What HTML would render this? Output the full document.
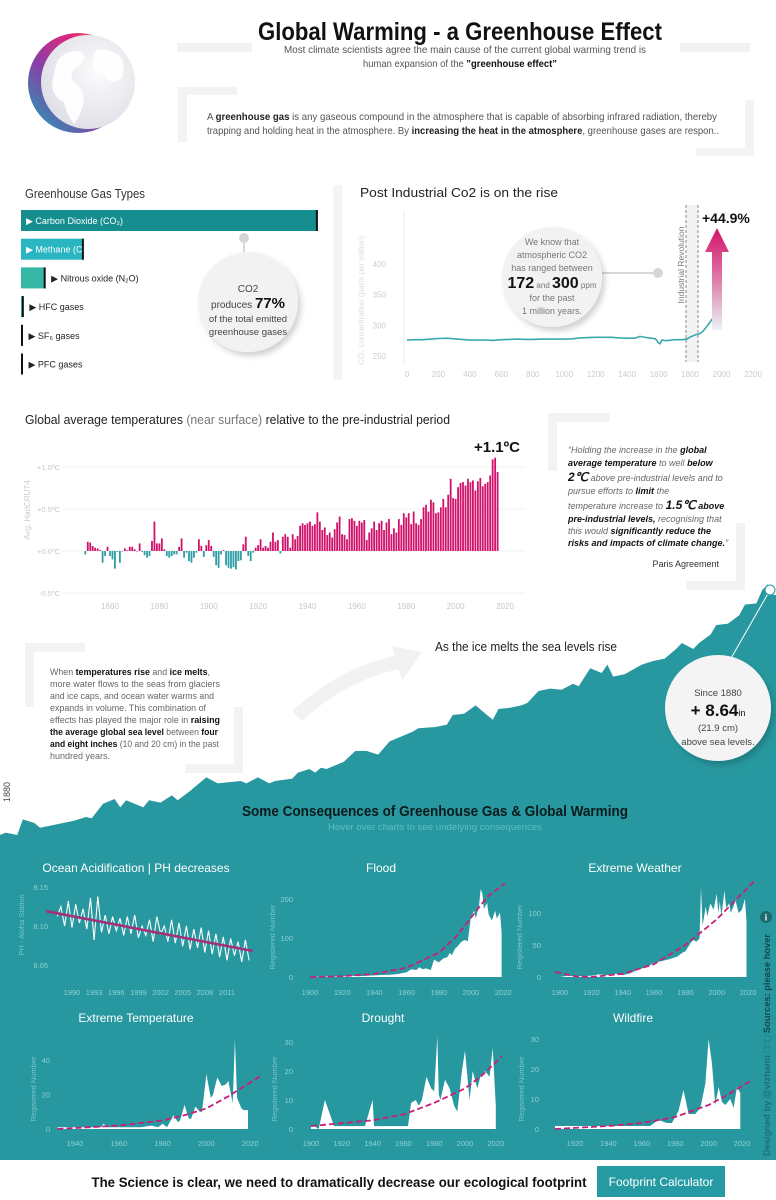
<!DOCTYPE html>
<html><head><meta charset="utf-8"><style>
html,body{margin:0;padding:0;background:#fff;}
svg{display:block;font-family:"Liberation Sans",sans-serif;}
</style></head><body>
<svg id="root" width="776" height="1200" viewBox="0 0 776 1200" xmlns="http://www.w3.org/2000/svg">
<defs>
<linearGradient id="globeGrad" x1="0" y1="1" x2="1" y2="0">
<stop offset="0" stop-color="#13a9b8"/><stop offset="0.4" stop-color="#8a3fa6"/><stop offset="0.7" stop-color="#e0267a"/><stop offset="1" stop-color="#f7941d"/></linearGradient>
<radialGradient id="globeGray" cx="0.6" cy="0.4" r="0.7"><stop offset="0" stop-color="#fbfbfd"/><stop offset="1" stop-color="#dcdce4"/></radialGradient>
<linearGradient id="arrowGrad" x1="0" y1="0" x2="0" y2="1"><stop offset="0" stop-color="#d1126b"/><stop offset="0.5" stop-color="#e07aa8"/><stop offset="1" stop-color="#e8f4f4"/></linearGradient>
<filter id="shadow" x="-20%" y="-20%" width="150%" height="150%"><feDropShadow dx="3" dy="4" stdDeviation="3" flood-color="#000" flood-opacity="0.18"/></filter>
<clipPath id="methaneClip"><rect x="21" y="238" width="62" height="25"/></clipPath>
</defs>

<!-- Header -->
<g>
<circle cx="78" cy="83" r="50" fill="url(#globeGrad)"/>
<circle cx="88" cy="82" r="47" fill="url(#globeGray)"/>
<path d="M58 60 q10-12 24-8 q6 8-4 14 q-8 4-6 14 q10 6 12 20 q-2 14-10 24 q-8-10-10-22 q-10-4-12-16 q2-16 6-26z" fill="#fff" opacity="0.9"/>
<path d="M96 50 q14-2 24 6 q6 10 2 22 q-8 6-14 2 q-6-10-14-10 q-4-10 2-20z" fill="#fff" opacity="0.9"/>
</g>
<rect x="177" y="43" width="75" height="9" fill="#f2f2f2"/>
<rect x="680" y="43" width="70" height="9" fill="#f2f2f2"/>
<text x="460" y="40" text-anchor="middle" font-size="25" font-weight="bold" fill="#111" textLength="404" lengthAdjust="spacingAndGlyphs">Global Warming - a Greenhouse Effect</text>
<text x="465" y="53" text-anchor="middle" font-size="10.5" fill="#555" textLength="362" lengthAdjust="spacingAndGlyphs">Most climate scientists agree the main cause of the current global warming trend is</text>
<text x="460" y="67" text-anchor="middle" font-size="10.5" fill="#555" textLength="194" lengthAdjust="spacingAndGlyphs">human expansion of the <tspan font-weight="bold" fill="#111">”greenhouse effect”</tspan></text>
<g fill="#f3f3f3">
<rect x="178" y="87" width="59" height="8"/><rect x="178" y="87" width="9" height="55"/>
<rect x="745" y="100" width="9" height="56"/><rect x="696" y="148" width="58" height="8"/>
</g>
<text x="207" y="120" font-size="10.5" fill="#555" textLength="510" lengthAdjust="spacingAndGlyphs">A <tspan font-weight="bold" fill="#222">greenhouse gas</tspan> is any gaseous compound in the atmosphere that is capable of absorbing infrared radiation, thereby</text>
<text x="207" y="134" font-size="10.5" fill="#555" textLength="512" lengthAdjust="spacingAndGlyphs">trapping and holding heat in the atmosphere. By <tspan font-weight="bold" fill="#222">increasing the heat in the atmosphere</tspan>, greenhouse gases are respon..</text>

<!-- Gas types -->
<text x="25" y="198" font-size="12.5" fill="#333" textLength="120" lengthAdjust="spacingAndGlyphs">Greenhouse Gas Types</text>
<rect x="333" y="185" width="9" height="195" fill="#f4f4f4"/>
<g id="gasChart"></g>
<line x1="244" y1="238" x2="244" y2="252" stroke="#ccc" stroke-width="1.5"/>
<circle cx="244" cy="238" r="5" fill="#d6d6d6"/>
<g>
<circle cx="248" cy="302" r="50" fill="#f2f2f2" filter="url(#shadow)"/>
<text x="248" y="292" text-anchor="middle" font-size="10" fill="#444">CO2</text>
<text x="248" y="308" text-anchor="middle" font-size="10" fill="#444">produces <tspan font-size="15" font-weight="bold" fill="#111">77%</tspan></text>
<text x="248" y="322" text-anchor="middle" font-size="9.5" fill="#444">of the total emitted</text>
<text x="248" y="335" text-anchor="middle" font-size="9.5" fill="#444">greenhouse gases</text>
</g>

<!-- CO2 chart -->
<text x="360" y="197" font-size="12.5" fill="#222" textLength="198" lengthAdjust="spacingAndGlyphs">Post Industrial Co2 is on the rise</text>
<text transform="translate(364,300) rotate(-90)" text-anchor="middle" font-size="8" fill="#ddd">CO₂ concentration (parts per million)</text>
<rect x="686" y="205" width="12" height="157" fill="#f3f3f3"/>
<line x1="686" y1="205" x2="686" y2="362" stroke="#888" stroke-dasharray="3,2"/>
<line x1="698" y1="205" x2="698" y2="362" stroke="#888" stroke-dasharray="3,2"/>
<text transform="translate(684,265) rotate(-90)" text-anchor="middle" font-size="8.5" fill="#777">Industrial Revolution</text>
<g id="co2Chart"></g>
<path d="M712 330 L712 252 L705 252 L717 228 L729 252 L722 252 L722 330 Z" fill="url(#arrowGrad)"/>
<text x="702" y="223" font-size="14" font-weight="bold" fill="#111">+44.9%</text>
<line x1="602" y1="273" x2="658" y2="273" stroke="#ccc" stroke-width="1.5"/>
<circle cx="658" cy="273" r="5" fill="#d6d6d6"/>
<g>
<circle cx="552" cy="277" r="50" fill="#f2f2f2" filter="url(#shadow)"/>
<text x="552" y="245" text-anchor="middle" font-size="9" fill="#777">We know that</text>
<text x="552" y="258" text-anchor="middle" font-size="9" fill="#777">atmospheric CO2</text>
<text x="552" y="271" text-anchor="middle" font-size="9" fill="#777">has ranged between</text>
<text x="552" y="288" text-anchor="middle" font-size="8" fill="#777"><tspan font-size="16" font-weight="bold" fill="#111">172</tspan> and <tspan font-size="16" font-weight="bold" fill="#111">300</tspan> ppm</text>
<text x="552" y="301" text-anchor="middle" font-size="9" fill="#777">for the past</text>
<text x="552" y="314" text-anchor="middle" font-size="9" fill="#777">1 million years.</text>
</g>

<!-- Temperature chart -->
<text x="25" y="424" font-size="12.5" fill="#222" textLength="425" lengthAdjust="spacingAndGlyphs">Global average temperatures <tspan fill="#777">(near surface)</tspan> relative to the pre-industrial period</text>
<text transform="translate(30,510) rotate(-90)" text-anchor="middle" font-size="8" fill="#ccc">Avg. HadCRUT4</text>
<g id="tempChart"></g>
<text x="474" y="452" font-size="15" font-weight="bold" fill="#111">+1.1ºC</text>
<g fill="#f3f3f3">
<rect x="548" y="413" width="62" height="9"/><rect x="548" y="413" width="9" height="58"/>
<rect x="736" y="523" width="9" height="67"/><rect x="686" y="581" width="59" height="9"/>
</g>
<g font-size="9" font-style="italic" fill="#666">
<text x="568" y="453">“Holding the increase in the <tspan font-weight="bold" fill="#111">global</tspan></text>
<text x="568" y="466"><tspan font-weight="bold" fill="#111">average temperature</tspan> to well <tspan font-weight="bold" fill="#111">below</tspan></text>
<text x="568" y="481"><tspan font-weight="bold" fill="#111" font-size="12">2℃</tspan> above pre-industrial levels and to</text>
<text x="568" y="494">pursue efforts to <tspan font-weight="bold" fill="#111">limit</tspan> the</text>
<text x="568" y="509">temperature increase to <tspan font-weight="bold" fill="#111" font-size="12">1.5℃</tspan><tspan font-weight="bold" fill="#111"> above</tspan></text>
<text x="568" y="522"><tspan font-weight="bold" fill="#111">pre-industrial levels,</tspan> recognising that</text>
<text x="568" y="534">this would <tspan font-weight="bold" fill="#111">significantly reduce the</tspan></text>
<text x="568" y="546"><tspan font-weight="bold" fill="#111">risks and impacts of climate change.</tspan>”</text>
</g>
<text x="719" y="567" text-anchor="end" font-size="9" fill="#333">Paris Agreement</text>

<!-- Sea level -->
<g id="seaChart"></g>
<g fill="#f3f3f3">
<rect x="25" y="643" width="60" height="9"/><rect x="25" y="643" width="9" height="64"/>
<rect x="234" y="707" width="9" height="66"/><rect x="185" y="764" width="58" height="9"/>
</g>
<g font-size="9.5" fill="#666">
<text x="50" y="675" textLength="160" lengthAdjust="spacingAndGlyphs">When <tspan font-weight="bold" fill="#111">temperatures rise</tspan> and <tspan font-weight="bold" fill="#111">ice melts</tspan>,</text>
<text x="50" y="687" textLength="170" lengthAdjust="spacingAndGlyphs">more water flows to the seas from glaciers</text>
<text x="50" y="699" textLength="164" lengthAdjust="spacingAndGlyphs">and ice caps, and ocean water warms and</text>
<text x="50" y="711" textLength="156" lengthAdjust="spacingAndGlyphs">expands in volume. This combination of</text>
<text x="50" y="723" textLength="170" lengthAdjust="spacingAndGlyphs">effects has played the major role in <tspan font-weight="bold" fill="#111">raising</tspan></text>
<text x="50" y="735" textLength="168" lengthAdjust="spacingAndGlyphs"><tspan font-weight="bold" fill="#111">the average global sea level</tspan> between <tspan font-weight="bold" fill="#111">four</tspan></text>
<text x="50" y="747" textLength="169" lengthAdjust="spacingAndGlyphs"><tspan font-weight="bold" fill="#111">and eight inches</tspan> (10 and 20 cm) in the past</text>
<text x="50" y="759" textLength="60" lengthAdjust="spacingAndGlyphs">hundred years.</text>
</g>
<g>
<path d="M297 716 Q345 672 400 662" fill="none" stroke="#f2f2f2" stroke-width="14"/>
<polygon points="392,646 422,652 402,681" fill="#f2f2f2"/>
</g>
<text x="435" y="651" font-size="13" fill="#222" textLength="182" lengthAdjust="spacingAndGlyphs">As the ice melts the sea levels rise</text>
<text transform="translate(10,792) rotate(-90)" text-anchor="middle" font-size="9" fill="#444">1880</text>
<line x1="770" y1="590" x2="730" y2="660" stroke="#fff" stroke-width="1"/>
<circle cx="770" cy="590" r="5" fill="#fff" stroke="#27989f" stroke-width="1"/>
<g>
<circle cx="718" cy="708" r="53" fill="#f4f4f4" filter="url(#shadow)"/>
<text x="718" y="696" text-anchor="middle" font-size="9.5" fill="#444">Since 1880</text>
<text x="718" y="716" text-anchor="middle" font-size="17" font-weight="bold" fill="#111">+ 8.64<tspan font-size="9" font-weight="normal">in</tspan></text>
<text x="718" y="731" text-anchor="middle" font-size="9.5" fill="#444">(21.9 cm)</text>
<text x="718" y="745" text-anchor="middle" font-size="9.5" fill="#444">above sea levels.</text>
</g>
<text x="435" y="816" text-anchor="middle" font-size="15" font-weight="bold" fill="#0b1a1c" textLength="386" lengthAdjust="spacingAndGlyphs">Some Consequences of Greenhouse Gas &amp; Global Warming</text>
<text x="435" y="830" text-anchor="middle" font-size="9" fill="#5fbec4" textLength="214" lengthAdjust="spacingAndGlyphs">Hover over charts to see undelying consequences</text>

<!-- Small multiples -->
<g id="smalls"></g>
<text transform="translate(770,1045) rotate(-90)" text-anchor="middle" font-size="9" font-weight="bold" fill="#1f6e76" textLength="222" lengthAdjust="spacingAndGlyphs">Designed by @vizhami □□□ <tspan fill="#12474d">Sources: please hover</tspan></text>
<g>
<circle cx="766" cy="917" r="6" fill="#1d6a71"/>
<text x="766" y="920.5" text-anchor="middle" font-size="9" font-weight="bold" fill="#fff">i</text>
</g>

<!-- Footer -->
<text x="339" y="1187" text-anchor="middle" font-size="14" font-weight="bold" fill="#111" textLength="495" lengthAdjust="spacingAndGlyphs">The Science is clear, we need to dramatically decrease our ecological footprint</text>
<g>
<rect x="597" y="1166" width="128" height="31" fill="#259aa2"/>
<text x="661" y="1186" text-anchor="middle" font-size="12" fill="#fff">Footprint Calculator</text>
</g>
</svg>
<script>
// ===== Data =====
const gasNames = ['Carbon Dioxide (CO₂)','Methane (CH₄)','Nitrous oxide (N₂O)','HFC gases','SF₆ gases','PFC gases'];
const gasShares = [76, 16, 6.2, 0.6, 0.3, 0.25];
const gasColors = ['#168e8f','#2ab5c2','#35b8a5','#2ab5c2','#168e8f','#168e8f'];

const co2Years = [0,50,100,150,200,250,300,350,400,450,500,550,600,650,700,750,800,850,900,950,1000,1050,1100,1150,1200,1250,1300,1350,1400,1450,1480,1500,1550,1580,1600,1610,1620,1650,1700,1750,1780,1800,1820,1840,1860,1880,1900,1920,1940,1950,1960,1975];
const co2Values = [276,276.5,276.5,277.5,278.5,279,278,277,276,276,276,275.5,276.5,277,277.5,277,277,277.5,277.5,277.5,277.5,278,279.5,280,280.5,280.5,280.5,279.5,279,279,282,281,279,278,271,270,276,275,276.5,276.5,277.5,281,283,285,286,290,296,303,310,311,317,326];
const co2YTicks = [250,300,350,400];
const co2XTicks = [0,200,400,600,800,1000,1200,1400,1600,1800,2000,2200];

const tempStartYear = 1850;
const tempValues = [
-0.04,0.11,0.10,0.06,0.04,0.03,0.01,-0.14,-0.06,0.05,
-0.06,-0.10,-0.21,-0.01,-0.14,0.00,0.03,0.01,0.05,0.05,
0.02,0.00,0.09,-0.01,-0.05,-0.08,-0.06,0.12,0.35,0.09,
0.09,0.15,0.02,-0.06,-0.08,-0.06,-0.04,-0.04,0.05,0.15,
-0.08,-0.02,-0.12,-0.14,-0.08,-0.02,0.14,0.06,-0.07,0.07,
0.13,0.06,-0.07,-0.17,-0.20,-0.04,0.01,-0.17,-0.20,-0.21,
-0.19,-0.22,-0.12,-0.11,0.08,0.17,-0.06,-0.12,-0.02,0.04,
0.07,0.14,0.04,0.06,0.04,0.11,0.22,0.11,0.13,-0.03,
0.17,0.20,0.17,0.04,0.20,0.14,0.18,0.30,0.33,0.31,
0.33,0.35,0.30,0.32,0.46,0.35,0.25,0.28,0.19,0.22,
0.16,0.26,0.34,0.41,0.20,0.19,0.14,0.38,0.39,0.36,
0.30,0.36,0.34,0.37,0.13,0.22,0.27,0.35,0.25,0.33,
0.36,0.25,0.34,0.38,0.20,0.27,0.22,0.38,0.31,0.45,
0.40,0.45,0.32,0.47,0.33,0.31,0.38,0.52,0.55,0.47,
0.61,0.58,0.45,0.46,0.52,0.62,0.52,0.67,0.86,0.63,
0.62,0.76,0.81,0.82,0.78,0.86,0.82,0.84,0.72,0.83,
0.87,0.77,0.80,0.82,0.90,1.09,1.11,0.94];
const tempYTicks = [-0.5,0,0.5,1.0];
const tempYLabels = ['-0.5ºC','+0.0ºC','+0.5ºC','+1.0ºC'];
const tempXTicks = [1860,1880,1900,1920,1940,1960,1980,2000,2020];

const seaYears = [1880,1881,1883,1884,1886,1887,1889,1891,1893,1895,1896,1898,1900,1901,1902,1905,1906,1908,1910,1911,1913,1916,1918,1922,1923,1925,1927,1928,1931,1932,1934,1935,1936,1937,1940,1942,1944,1946,1948,1950,1952,1953,1956,1958,1959,1961,1963,1964,1966,1967,1969,1971,1972,1974,1976,1978,1980,1981,1983,1985,1986,1987,1989,1992,1994,1996,1998,1999,2001,2002,2004,2005,2007,2009,2010,2012,2013,2014,2015];
const seaInches = [0,0.1,0,0.65,0.5,0.3,0.4,0.5,0.6,0.75,0.7,1.3,1.5,1.15,1.45,1.15,1.45,1.35,1.65,1.45,1.8,2.4,2.15,2.25,2.15,2.4,2.15,2.25,2.35,2.6,2.75,2.6,2.8,2.75,3.05,3.5,3.5,3.35,3.9,4.1,4.3,4.45,4.5,4.6,5.0,5.05,5.4,5.2,4.8,5.25,5.3,5.4,5.5,6.0,6.1,6.05,6.3,6.2,6.95,6.75,7.1,6.6,6.7,7.1,7.25,7.35,7.75,8.0,7.75,8.0,8.35,8.75,8.8,9.15,9.6,9.65,10.2,10.45,10.0];

const phStartYear = 1988;
const phValues = [8.112,8.125,8.100,8.132,8.098,8.128,8.104,8.122,8.096,8.136,8.082,8.138,8.092,8.114,8.090,8.112,8.094,8.110,8.088,8.112,8.090,8.114,8.085,8.100,8.088,8.108,8.080,8.112,8.090,8.100,8.080,8.108,8.078,8.104,8.074,8.100,8.070,8.096,8.072,8.098,8.066,8.094,8.064,8.090,8.060,8.086,8.056,8.084,8.062,8.080,8.054,8.082,8.056];
const phTrendYears = [1986.5,2014.5];
const phTrendValues = [8.119,8.068];
const phYTicks = [8.05,8.10,8.15];
const phXTicks = [1990,1993,1996,1999,2002,2005,2008,2011];

const floodYears = [1900,1910,1920,1926,1930,1940,1945,1950,1955,1960,1963,1966,1968,1970,1972,1975,1977,1978,1980,1983,1985,1987,1988,1990,1992,1994,1996,1998,2000,2002,2003,2005,2006,2007,2008,2010,2011,2013,2015,2016,2018,2019];
const floodValues = [0,1,1,3,2,4,5,6,8,12,20,18,25,20,22,18,45,42,38,48,50,62,55,72,80,90,95,92,155,170,150,185,225,215,175,190,160,145,170,150,165,115];
const floodTrendYears = [1900,1920,1940,1960,1980,1990,2000,2010,2021];
const floodTrendValues = [0,2,8,24,62,100,152,205,240];

const weatherYears = [1900,1905,1910,1920,1925,1930,1935,1940,1945,1950,1955,1960,1965,1970,1975,1978,1980,1983,1985,1987,1989,1990,1991,1993,1994,1996,1998,2000,2001,2002,2003,2005,2006,2008,2009,2011,2012,2014,2016,2018,2019];
const weatherValues = [0,2,1,2,4,3,5,3,6,12,15,22,25,28,32,38,40,52,58,55,60,140,80,110,95,115,105,130,100,118,95,135,108,115,100,112,120,100,105,122,87];
const weatherTrendYears = [1897,1910,1920,1940,1960,1980,2000,2010,2024];
const weatherTrendValues = [8,1,0,5,20,50,90,115,150];

const heatYears = [1932,1935,1945,1952,1953,1955,1960,1970,1975,1978,1980,1982,1985,1987,1988,1990,1992,1993,1995,1997,1998,2000,2002,2003,2005,2007,2009,2010,2012,2013,2014,2016,2017,2019];
const heatValues = [1,1,1,1,3,1,1,1,2,1,3,1,8,4,5,14,6,6,13,10,10,32,18,20,30,25,26,28,15,52,18,12,11,11];
const heatTrendYears = [1932,1960,1980,1990,2000,2010,2025];
const heatTrendValues = [0,2,5,8,12,19,31];

const droughtYears = [1900,1902,1905,1909,1915,1935,1940,1941,1963,1965,1968,1970,1972,1975,1978,1980,1982,1983,1984,1987,1990,1993,1995,1998,2000,2003,2005,2008,2010,2013,2016,2018,2020];
const droughtValues = [1,1,0,10,1,1,10,1,1,9,10,8,10,18,14,13,32,12,10,17,14,8,6,20,27,10,20,14,18,20,18,28,8];
const droughtTrendYears = [1900,1920,1940,1960,1980,2000,2010,2024];
const droughtTrendValues = [1,2,3,5,9,14,18,25];

const fireYears = [1908,1920,1945,1965,1970,1975,1978,1982,1985,1988,1992,1995,1998,2000,2002,2004,2006,2008,2010,2013,2015,2017,2019];
const fireValues = [1,1,1,1,3,2,2,6,13,5,5,7,15,30,22,8,14,9,8,10,7,14,12];
const fireTrendYears = [1908,1940,1960,1980,2000,2010,2025];
const fireTrendValues = [0,1,2,4,8,11,16];

// ===== Helpers =====
const NS = 'http://www.w3.org/2000/svg';
function mk(parent, tag, attrs) {
  const e = document.createElementNS(NS, tag);
  for (const k in attrs) e.setAttribute(k, attrs[k]);
  parent.appendChild(e);
  return e;
}
function txt(parent, x, y, s, attrs) {
  const e = mk(parent, 'text', Object.assign({x: x, y: y}, attrs));
  e.textContent = s;
  return e;
}

// ===== Gas bars =====
(function () {
  const g = document.getElementById('gasChart');
  const x0 = 21, k = 3.9;
  gasShares.forEach((v, i) => {
    const y = 210 + i * 28.7, w = Math.max(1.5, v * k);
    const bar = mk(g, 'rect', {x: x0, y: y, width: w, height: 21, fill: gasColors[i]});
    
    
    const end = mk(g, 'rect', {x: x0 + w - 1.5, y: y, width: 2, height: 21, fill: '#111'});
    
    
    let lab;
    if (w > 50) {
      lab = txt(g, x0 + 5, y + 14, '▶ ' + gasNames[i], {'font-size': 9, fill: '#fff'});
      if (w < 150) lab.setAttribute('clip-path', 'url(#methaneClip)');
    } else {
      lab = txt(g, x0 + w + 6, y + 14, '▶ ' + gasNames[i], {'font-size': 9, fill: '#222'});
    }
    
    
  });
})();

// ===== CO2 line =====
(function () {
  const g = document.getElementById('co2Chart');
  const X = yr => 407 + yr * (346 / 2200);
  const Y = v => 356 - (v - 250) * (92 / 150);
  const ax = mk(g, 'line', {x1: 404, y1: 210, x2: 404, y2: 365, stroke: '#eee'});
  
  
  co2YTicks.forEach(t => {
    const l = txt(g, 386, Y(t) + 3, String(t), {'font-size': 8, fill: '#ccc', 'text-anchor': 'end'});
    
    
  });
  co2XTicks.forEach(t => {
    const l = txt(g, X(t), 377, String(t), {'font-size': 8, fill: '#ccc', 'text-anchor': 'middle'});
    
    
  });
  const d = co2Years.map((yr, i) => (i ? 'L' : 'M') + X(yr).toFixed(1) + ' ' + Y(co2Values[i]).toFixed(1)).join(' ');
  const p = mk(g, 'path', {d: d, fill: 'none', stroke: '#3aa9ae', 'stroke-width': 1.6});
  
  
})();

// ===== Temperature bars =====
(function () {
  const g = document.getElementById('tempChart');
  const X = yr => 110 + (yr - 1860) * (395 / 160);
  const Y = v => 551 - v * 84;
  tempYTicks.forEach((t, i) => {
    const gl = mk(g, 'line', {x1: 62, y1: Y(t), x2: 525, y2: Y(t), stroke: '#f1f1f1'});
    
    
    const l = txt(g, 60, Y(t) + 3, tempYLabels[i], {'font-size': 7.5, fill: '#c8c8c8', 'text-anchor': 'end'});
    
    
  });
  tempXTicks.forEach(t => {
    const l = txt(g, X(t), 609, String(t), {'font-size': 8, fill: '#c8c8c8', 'text-anchor': 'middle'});
    
    
  });
  tempValues.forEach((v, i) => {
    const yr = tempStartYear + i;
    const y0 = Y(0), y1 = Y(v);
    const r = mk(g, 'rect', {x: X(yr) - 0.9, y: Math.min(y0, y1), width: 1.8, height: Math.max(0.5, Math.abs(y1 - y0)), fill: v >= 0 ? '#d1126b' : '#2e9ea6'});
    
    
  });
})();

// ===== Sea level area =====
(function () {
  const g = document.getElementById('seaChart');
  const X = yr => (yr - 1880) * 5.73;
  const Y = v => 835 - v * 24;
  let d = 'M0 1160 ';
  seaYears.forEach((yr, i) => { d += 'L' + X(yr).toFixed(1) + ' ' + Y(seaInches[i]).toFixed(1) + ' '; });
  d += 'L776 ' + Y(seaInches[seaInches.length - 1]).toFixed(1) + ' L776 1160 Z';
  const p = mk(g, 'path', {d: d, fill: '#27989f'});
  
  
})();

// ===== Small multiples =====
function smallChart(cfg) {
  const root = document.getElementById('smalls');
  const g = mk(root, 'g', {});
  
  
  const X = yr => cfg.x0 + (yr - cfg.xYear0) * cfg.xk;
  const Y = v => cfg.yBase - (v - cfg.yMin) * cfg.yk;
  const t = txt(g, cfg.titleX, cfg.titleY, cfg.title, {'font-size': 12, fill: '#fff', 'text-anchor': 'middle'});
  
  
  const at = mk(g, 'text', {transform: 'translate(' + cfg.axisTitleX + ',' + (cfg.yBase - 40) + ') rotate(-90)', 'font-size': 7.5, fill: '#78c6cb', 'text-anchor': 'middle'});
  at.textContent = cfg.axisTitle;
  
  
  cfg.yTicks.forEach(v => {
    const l = txt(g, cfg.yTickX, Y(v) + 3, cfg.yFmt ? cfg.yFmt(v) : String(v), {'font-size': 7.5, fill: '#8fd0d4', 'text-anchor': 'end'});
    
    
  });
  cfg.xTicks.forEach(v => {
    const l = txt(g, X(v), cfg.xLabelY, String(v), {'font-size': 7.5, fill: '#8fd0d4', 'text-anchor': 'middle'});
    
    
  });
  if (cfg.area) {
    let d = 'M' + X(cfg.years[0]).toFixed(1) + ' ' + Y(cfg.yMin).toFixed(1) + ' ';
    cfg.years.forEach((yr, i) => { d += 'L' + X(yr).toFixed(1) + ' ' + Y(cfg.values[i]).toFixed(1) + ' '; });
    d += 'L' + X(cfg.years[cfg.years.length - 1]).toFixed(1) + ' ' + Y(cfg.yMin).toFixed(1) + ' Z';
    const a = mk(g, 'path', {d: d, fill: '#fff'});
    
    
  } else {
    const d = cfg.years.map((yr, i) => (i ? 'L' : 'M') + X(yr).toFixed(1) + ' ' + Y(cfg.values[i]).toFixed(1)).join(' ');
    const l = mk(g, 'path', {d: d, fill: 'none', stroke: '#fff', 'stroke-width': 1.1});
    
    
  }
  const td = cfg.trendYears.map((yr, i) => (i ? 'L' : 'M') + X(yr).toFixed(1) + ' ' + Y(cfg.trendValues[i]).toFixed(1)).join(' ');
  const tr = mk(g, 'path', {d: td, fill: 'none', stroke: cfg.area ? '#c81f78' : '#a3307a', 'stroke-width': cfg.area ? 1.8 : 2.6, 'stroke-dasharray': cfg.area ? '6,3' : 'none'});
  
  
}

smallChart({name: 'ocean-acidification-chart', title: 'Ocean Acidification | PH decreases', titleX: 136, titleY: 872,
  axisTitle: 'PH - Aloha Station', axisTitleX: 24, yTickX: 48, yTicks: phYTicks, yFmt: v => v.toFixed(2),
  x0: 72, xYear0: 1990, xk: 7.38, yBase: 965, yMin: 8.05, yk: 780, xTicks: phXTicks, xLabelY: 995,
  years: phValues.map((v, i) => phStartYear + i / 2), values: phValues, trendYears: phTrendYears, trendValues: phTrendValues, area: false});
smallChart({name: 'flood-chart', title: 'Flood', titleX: 381, titleY: 872, axisTitle: 'Registered Number', axisTitleX: 275,
  yTickX: 293, yTicks: [0, 100, 200], x0: 310, xYear0: 1900, xk: 1.61, yBase: 977, yMin: 0, yk: 0.39,
  xTicks: [1900, 1920, 1940, 1960, 1980, 2000, 2020], xLabelY: 995, years: floodYears, values: floodValues,
  trendYears: floodTrendYears, trendValues: floodTrendValues, area: true});
smallChart({name: 'extreme-weather-chart', title: 'Extreme Weather', titleX: 635, titleY: 872, axisTitle: 'Registered Number', axisTitleX: 522,
  yTickX: 541, yTicks: [0, 50, 100], x0: 560, xYear0: 1900, xk: 1.567, yBase: 977, yMin: 0, yk: 0.64,
  xTicks: [1900, 1920, 1940, 1960, 1980, 2000, 2020], xLabelY: 995, years: weatherYears, values: weatherValues,
  trendYears: weatherTrendYears, trendValues: weatherTrendValues, area: true});
smallChart({name: 'extreme-temperature-chart', title: 'Extreme Temperature', titleX: 136, titleY: 1022, axisTitle: 'Registered Number', axisTitleX: 36,
  yTickX: 50, yTicks: [0, 20, 40], x0: 75, xYear0: 1940, xk: 2.19, yBase: 1129, yMin: 0, yk: 1.72,
  xTicks: [1940, 1960, 1980, 2000, 2020], xLabelY: 1146, years: heatYears, values: heatValues,
  trendYears: heatTrendYears, trendValues: heatTrendValues, area: true});
smallChart({name: 'drought-chart', title: 'Drought', titleX: 383, titleY: 1022, axisTitle: 'Registered Number', axisTitleX: 277,
  yTickX: 293, yTicks: [0, 10, 20, 30], x0: 311, xYear0: 1900, xk: 1.54, yBase: 1129, yMin: 0, yk: 2.9,
  xTicks: [1900, 1920, 1940, 1960, 1980, 2000, 2020], xLabelY: 1146, years: droughtYears, values: droughtValues,
  trendYears: droughtTrendYears, trendValues: droughtTrendValues, area: true});
smallChart({name: 'wildfire-chart', title: 'Wildfire', titleX: 633, titleY: 1022, axisTitle: 'Registered Number', axisTitleX: 524,
  yTickX: 539, yTicks: [0, 10, 20, 30], x0: 575, xYear0: 1920, xk: 1.67, yBase: 1129, yMin: 0, yk: 3.0,
  xTicks: [1920, 1940, 1960, 1980, 2000, 2020], xLabelY: 1146, years: fireYears, values: fireValues,
  trendYears: fireTrendYears, trendValues: fireTrendValues, area: true});
</script>
</body></html>
